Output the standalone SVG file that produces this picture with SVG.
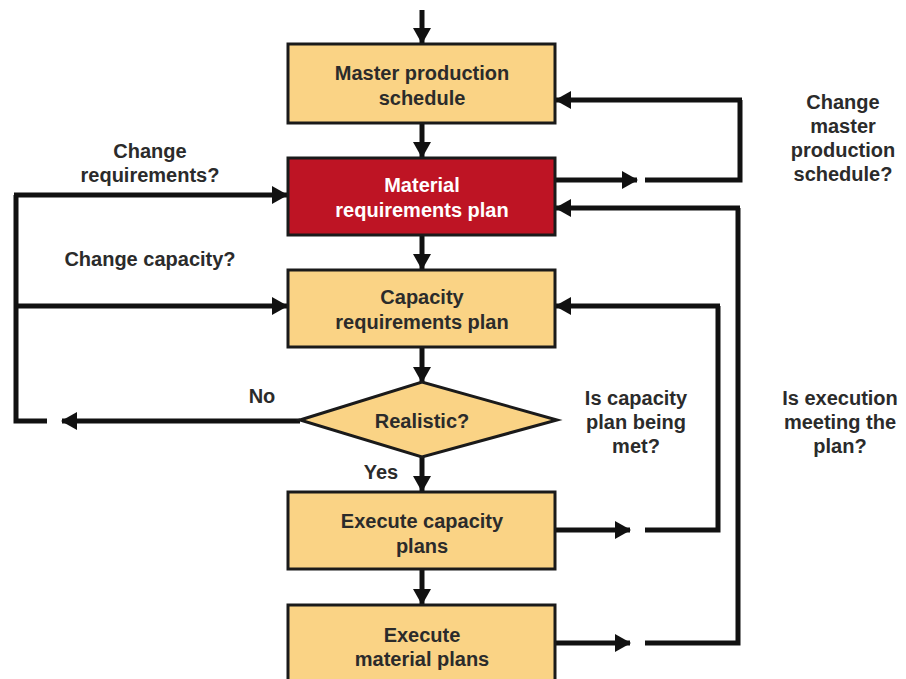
<svg xmlns="http://www.w3.org/2000/svg" width="906" height="679" viewBox="0 0 906 679">
  <defs>
    <marker id="head" markerUnits="userSpaceOnUse" markerWidth="16" markerHeight="18" refX="15" refY="9" orient="auto">
      <path d="M0,0 L16,9 L0,18 Z" fill="#111"/>
    </marker>
    <style>
      .box { fill: #FAD385; stroke: #1a1a1a; stroke-width: 3; }
      .red { fill: #BE1424; stroke: #1a1a1a; stroke-width: 3; }
      .lbl { font-family: "Liberation Sans", Arial, sans-serif; font-weight: bold; font-size: 20px; fill: #2b2b2b; text-anchor: middle; }
      .lblw { font-family: "Liberation Sans", Arial, sans-serif; font-weight: bold; font-size: 20px; fill: #fff; text-anchor: middle; }
      .ln { fill: none; stroke: #111; stroke-width: 5; }
      .arr { fill: none; stroke: #111; stroke-width: 5; marker-end: url(#head); }
    </style>
  </defs>
  <rect width="906" height="679" fill="#fff"/>

  <g id="connectors">
    <!-- main downward flow -->
    <line class="arr" x1="422" y1="10" x2="422" y2="43"/>
    <line class="arr" x1="422" y1="123" x2="422" y2="157"/>
    <line class="arr" x1="422" y1="236" x2="422" y2="269"/>
    <line class="arr" x1="422" y1="348" x2="422" y2="382"/>
    <line class="arr" x1="422" y1="457" x2="422" y2="491"/>
    <line class="arr" x1="422" y1="570" x2="422" y2="604"/>

    <!-- No branch and left loop -->
    <line class="arr" x1="300" y1="421" x2="62" y2="421"/>
    <polyline class="ln" points="47,421 16,421 16,195"/>
    <line class="arr" x1="14" y1="195" x2="287" y2="195"/>
    <line class="arr" x1="16" y1="306" x2="287" y2="306"/>

    <!-- MRP to master schedule loop -->
    <line class="arr" x1="556" y1="180" x2="637" y2="180"/>
    <polyline class="ln" points="645,180 740,180 740,100"/>
    <line class="arr" x1="742" y1="100" x2="556" y2="100"/>

    <!-- capacity execution loop -->
    <line class="arr" x1="556" y1="530" x2="630" y2="530"/>
    <polyline class="ln" points="645,530 718,530 718,306"/>
    <line class="arr" x1="720" y1="306" x2="556" y2="306"/>

    <!-- material execution loop -->
    <line class="arr" x1="556" y1="643" x2="630" y2="643"/>
    <polyline class="ln" points="645,643 738,643 738,208"/>
    <line class="arr" x1="740" y1="208" x2="556" y2="208"/>
  </g>

  <g id="mps">
    <rect class="box" x="288" y="44" width="267" height="79"/>
    <text class="lbl" x="422" y="80">Master production</text>
    <text class="lbl" x="422" y="105">schedule</text>
  </g>

  <g id="mrp">
    <rect class="red" x="288" y="158" width="267" height="77"/>
    <text class="lblw" x="422" y="192">Material</text>
    <text class="lblw" x="422" y="217">requirements plan</text>
  </g>

  <g id="crp">
    <rect class="box" x="288" y="270" width="267" height="77"/>
    <text class="lbl" x="422" y="304">Capacity</text>
    <text class="lbl" x="422" y="329">requirements plan</text>
  </g>

  <g id="realistic">
    <polygon class="box" points="300,420 422,382 557,420 422,457"/>
    <text class="lbl" x="422" y="428">Realistic?</text>
  </g>

  <g id="exec-capacity">
    <rect class="box" x="288" y="492" width="267" height="77"/>
    <text class="lbl" x="422" y="528">Execute capacity</text>
    <text class="lbl" x="422" y="553">plans</text>
  </g>

  <g id="exec-material">
    <rect class="box" x="288" y="605" width="267" height="80"/>
    <text class="lbl" x="422" y="642">Execute</text>
    <text class="lbl" x="422" y="666">material plans</text>
  </g>

  <g id="labels">
    <text class="lbl" x="150" y="158">Change</text>
    <text class="lbl" x="150" y="182">requirements?</text>
    <text class="lbl" x="150" y="266">Change capacity?</text>
    <text class="lbl" x="262" y="403">No</text>
    <text class="lbl" x="381" y="479">Yes</text>
    <text class="lbl" x="843" y="109">Change</text>
    <text class="lbl" x="843" y="133">master</text>
    <text class="lbl" x="843" y="157">production</text>
    <text class="lbl" x="843" y="181">schedule?</text>
    <text class="lbl" x="636" y="405">Is capacity</text>
    <text class="lbl" x="636" y="429">plan being</text>
    <text class="lbl" x="636" y="453">met?</text>
    <text class="lbl" x="840" y="405">Is execution</text>
    <text class="lbl" x="840" y="429">meeting the</text>
    <text class="lbl" x="840" y="453">plan?</text>
  </g>
</svg>
